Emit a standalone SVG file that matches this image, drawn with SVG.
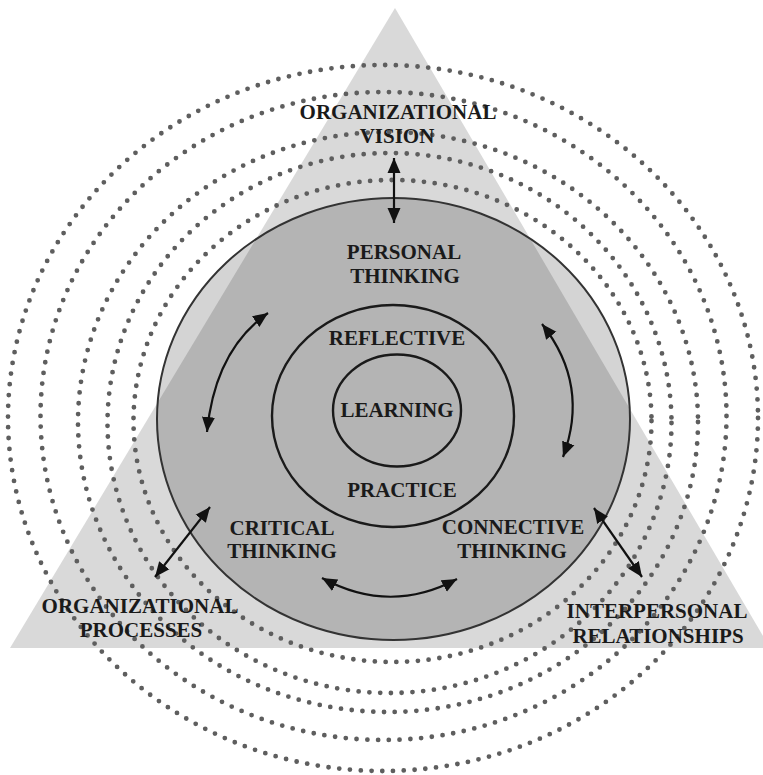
<svg xmlns="http://www.w3.org/2000/svg" width="763" height="775" viewBox="0 0 763 775">
<defs>
<style>
.lbl{font-family:"Liberation Serif","Times New Roman",serif;font-weight:bold;font-size:21px;fill:#1a1a1a;text-anchor:middle}
.ring{fill:none;stroke:#5e5e5e;stroke-width:4.8;stroke-linecap:round;stroke-dasharray:0 10.8}
.arr{fill:none;stroke:#111;stroke-width:2.2;marker-start:url(#ah);marker-end:url(#ah)}
.ln{fill:none;stroke:#1a1a1a;stroke-width:2.4}
</style>
<marker id="ah" viewBox="-15 -7 16 14" refX="0" refY="0" markerWidth="16" markerHeight="14" markerUnits="userSpaceOnUse" orient="auto-start-reverse">
<path d="M0,0 L-15,-6.5 L-15,6.5 Z" fill="#111"/>
</marker>
</defs>
<rect width="763" height="775" fill="#fff"/>
<g id="triangle">
<polygon points="395,8 10,648 770,648" fill="#d9d9d9"/>
</g>
<g id="rings">
<ellipse class="ring" cx="383" cy="418" rx="375" ry="353"/>
<ellipse class="ring" cx="383.5" cy="416" rx="343" ry="324"/>
<ellipse class="ring" cx="388" cy="422" rx="310" ry="290"/>
<ellipse class="ring" cx="389.5" cy="423" rx="282" ry="270"/>
<ellipse class="ring" cx="392.5" cy="421" rx="259" ry="241"/>
</g>
<g id="personal-thinking">
<ellipse cx="393.5" cy="419" rx="236.5" ry="221" fill="#000" fill-opacity="0.17" stroke="#333" stroke-width="2"/>
<text class="lbl" x="404" y="259">PERSONAL</text>
<text class="lbl" x="405" y="283">THINKING</text>
</g>
<g id="reflective-practice">
<ellipse class="ln" cx="393" cy="416" rx="121" ry="111"/>
<text class="lbl" x="397" y="345">REFLECTIVE</text>
<text class="lbl" x="402" y="497">PRACTICE</text>
</g>
<g id="learning">
<ellipse class="ln" cx="397" cy="410.5" rx="64" ry="56"/>
<text class="lbl" x="397" y="417">LEARNING</text>
</g>
<g id="critical-thinking">
<text class="lbl" x="282" y="535">CRITICAL</text>
<text class="lbl" x="282" y="558">THINKING</text>
</g>
<g id="connective-thinking">
<text class="lbl" x="513" y="534">CONNECTIVE</text>
<text class="lbl" x="512" y="558">THINKING</text>
</g>
<g id="organizational-vision">
<text class="lbl" x="398" y="119">ORGANIZATIONAL</text>
<text class="lbl" x="397" y="143">VISION</text>
</g>
<g id="organizational-processes">
<text class="lbl" x="140" y="613">ORGANIZATIONAL</text>
<text class="lbl" x="141" y="637">PROCESSES</text>
</g>
<g id="interpersonal-relationships">
<text class="lbl" x="657" y="618">INTERPERSONAL</text>
<text class="lbl" x="658" y="643">RELATIONSHIPS</text>
</g>
<g id="connectors">
<path class="arr" d="M394,158 L394,223"/>
<path class="arr" d="M268,313 Q215,350 207,432"/>
<path class="arr" d="M542,324 Q590,385 563,457"/>
<path class="arr" d="M322,578 Q390,615 457,579"/>
<path class="arr" d="M210,507 L155,577"/>
<path class="arr" d="M594,508 L642,577"/>
</g>
</svg>
